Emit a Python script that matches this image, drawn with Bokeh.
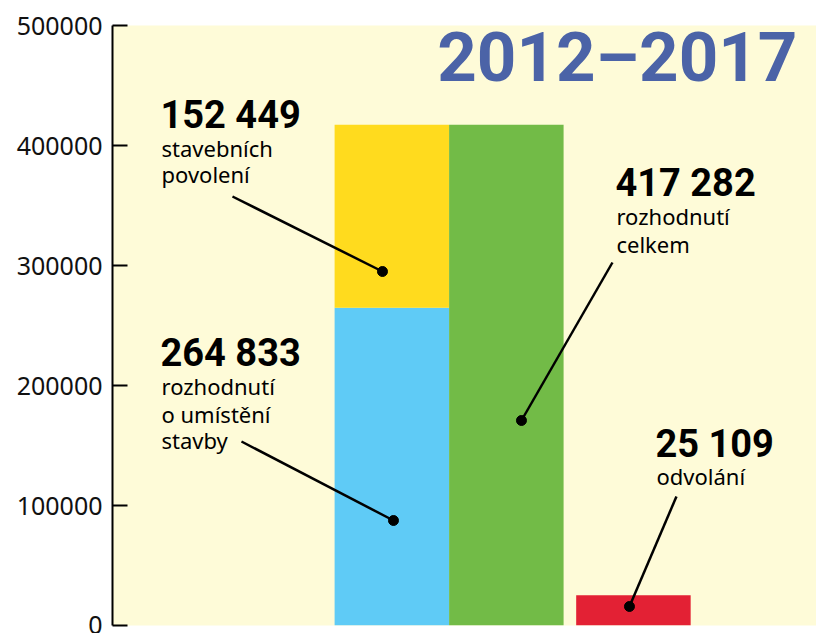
from bokeh.plotting import figure
from bokeh.models import Range1d, ColumnDataSource, BasicTickFormatter, FixedTicker
from bokeh.core.properties import value
from bokeh.embed import file_html
from bokeh.resources import INLINE

# ---- data ----
title_text = "2012–2017"
permits = 152449          # stavebních povolení
placements = 264833       # rozhodnutí o umístění stavby
total = 417282            # rozhodnutí celkem
appeals = 25109           # odvolání
y_ticks = [0, 100000, 200000, 300000, 400000, 500000]

num_labels = ["152 449", "264 833", "417 282", "25 109"]
sub_labels = [["stavebních", "povolení"],
              ["rozhodnutí", "o umístění", "stavby"],
              ["rozhodnutí", "celkem"],
              ["odvolání"]]

# ---- layout helpers (positions, not data) ----
bar_x = [2.44, 3.44, 4.55]
bar_w = 1.0
BG = "#FEFBD8"
YELLOW = "#FFDB1E"
BLUE = "#5FCBF6"
GREEN = "#72BB47"
RED = "#E32134"
BASE_SHIFT = 0.36  # compensation for baseline placement, in em

p = figure(width=816, height=633, output_backend="svg", toolbar_location=None,
           x_range=Range1d(0, 6.149), y_range=Range1d(0, 500000),
           min_border_left=112, min_border_right=0, min_border_top=25, min_border_bottom=8)
p.background_fill_color = BG
p.border_fill_color = "white"
p.outline_line_color = None
p.grid.visible = False
p.xaxis.visible = False

ya = p.yaxis[0]
ya.ticker = FixedTicker(ticks=y_ticks)
ya.formatter = BasicTickFormatter(use_scientific=False)
ya.axis_line_width = 2
ya.axis_line_color = "black"
ya.major_tick_in = 15
ya.major_tick_out = 0
ya.major_tick_line_width = 2
ya.minor_tick_line_color = None
ya.major_label_text_font = "Noto Sans"
ya.major_label_text_font_size = "25px"
ya.major_label_text_color = "#111111"
ya.major_label_standoff = 10

# bars
p.vbar(x=[bar_x[0]], bottom=[0], top=[placements], width=bar_w, color=BLUE, line_color=None)
p.vbar(x=[bar_x[0]], bottom=[placements], top=[placements + permits], width=bar_w, color=YELLOW, line_color=None)
p.vbar(x=[bar_x[1]], bottom=[0], top=[total], width=bar_w, color=GREEN, line_color=None)
p.vbar(x=[bar_x[2]], bottom=[0], top=[appeals], width=bar_w, color=RED, line_color=None)

# leader lines (label anchor -> dot on bar)
def px2x(px):
    return (px - 112) / 114.5

def py2y(py):
    return (625 - py) * 500000 / 600

leaders = [((232, 196), (382, 271)),
           ((241, 441), (393, 520)),
           ((612, 262), (521, 420)),
           ((676, 496), (629, 606))]
p.segment(x0=[px2x(a[0]) for a, b in leaders], y0=[py2y(a[1]) for a, b in leaders],
          x1=[px2x(b[0]) for a, b in leaders], y1=[py2y(b[1]) for a, b in leaders],
          line_color="black", line_width=2.5)
p.scatter(x=[px2x(b[0]) for a, b in leaders], y=[py2y(b[1]) for a, b in leaders],
          size=10, color="black")

# labels
NUM_FS = 38
SUB_FS = 22
TITLE_FS = 69
num_pos = [(160, 128), (160, 366), (615, 196), (655, 457)]
sub_base = [[155, 181], [393, 421, 447], [223, 251], [483]]
num_src = ColumnDataSource(dict(x=[px2x(a) for a, b in num_pos],
                                y=[py2y(b - BASE_SHIFT * NUM_FS) for a, b in num_pos], t=num_labels))
p.text(x="x", y="y", text="t", source=num_src, text_font=value("Roboto"), text_font_style="bold",
       text_font_size=f"{NUM_FS}px", text_color="black", text_baseline="alphabetic", text_align="left")

sx, sy, st = [], [], []
for (nx, ny), lines, bases in zip(num_pos, sub_labels, sub_base):
    for ln, b in zip(lines, bases):
        sx.append(px2x(nx + 1)); sy.append(py2y(b - BASE_SHIFT * SUB_FS)); st.append(ln)
p.text(x=sx, y=sy, text=st, text_font=value("Noto Sans"), text_font_size=f"{SUB_FS}px",
       text_color="black", text_baseline="alphabetic", text_align="left")

# title
p.text(x=[px2x(797)], y=[py2y(82 - BASE_SHIFT * TITLE_FS)], text=[title_text], text_font=value("Roboto"),
       text_font_style="bold", text_font_size=f"{TITLE_FS}px", text_color="#4B63A7",
       text_baseline="alphabetic", text_align="right")

open("out.html", "w").write(file_html(p, INLINE))
